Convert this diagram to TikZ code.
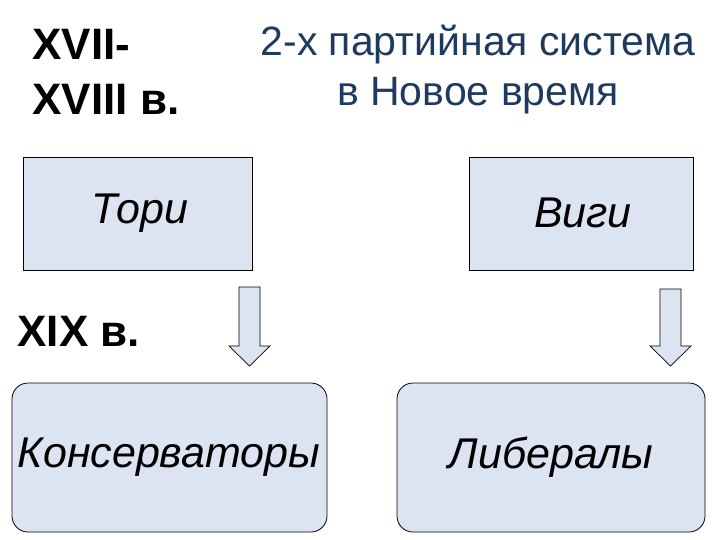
\documentclass[tikz,border=0pt]{standalone}
\usepackage{fontspec}
\setmainfont{Liberation Sans}
\definecolor{boxfill}{HTML}{DCE4F2}
\definecolor{titlec}{HTML}{1F3A5F}
\begin{document}
\begin{tikzpicture}[x=1pt,y=-1pt,
  sq/.style={draw=black,fill=boxfill,line width=0.8pt},
  rnd/.style={draw=black,fill=boxfill,line width=0.8pt,rounded corners=16pt},
  lbl/.style={font=\itshape\fontsize{43}{48}\selectfont},
  arr/.style={draw=black,fill=boxfill,line width=0.7pt}]
\useasboundingbox (0,0) rectangle (720,540);
\node[font=\bfseries\fontsize{44}{55}\selectfont,align=left] (era1) at (106,72) {XVII-\\XVIII в.};
\node[font=\fontsize{41}{50}\selectfont,align=center,text=titlec] (title) at (478,70) {2-х партийная система\\в Новое время};
\draw[sq] (23,157) rectangle (252,270);
\node[lbl] (tori) at (140,213) {Тори};
\draw[sq] (469,157) rectangle (693,270);
\node[lbl] (vigi) at (583,213) {Виги};
\node[font=\bfseries\fontsize{44}{48}\selectfont,anchor=west] (era2) at (14,331) {XIX в.};
\draw[arr] (239,287) -- (260,287) -- (260,346) -- (270,346) -- (249.5,366) -- (229,346) -- (239,346) -- cycle;
\draw[arr] (660,289) -- (681,289) -- (681,346) -- (691,346) -- (670.5,366) -- (650,346) -- (660,346) -- cycle;
\draw[rnd] (12,383) rectangle (327,532);
\node[lbl] (kons) at (169,457) {Консерваторы};
\draw[rnd] (397,383) rectangle (705,532);
\node[lbl] (lib) at (551,457) {Либералы};
\end{tikzpicture}
\end{document}
